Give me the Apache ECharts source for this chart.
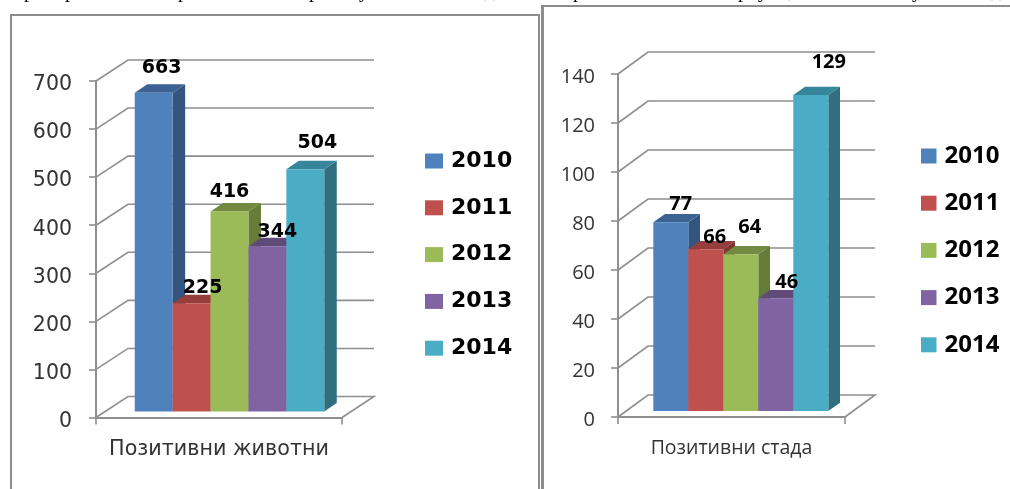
<!DOCTYPE html>
<html>
<head>
<meta charset="utf-8">
<style>
  html, body { margin: 0; padding: 0; background: #fff; overflow: hidden; }
  .frame { position: absolute; box-sizing: border-box; border: 2px solid #8c8c8c; }
  #frameA { left: 10px; top: 14px; width: 530px; height: 500px; }
  #frameB { left: 541px; top: 5px; width: 500px; height: 500px; border-left-width: 3px; }
  .chart { position: absolute; top: 0; height: 489px; filter: blur(0.45px); }
  #chartA { left: 0; width: 541px; }
  #chartB { left: 541px; width: 469px; }
</style>
</head>
<body>
<div id="frameA" class="frame"></div>
<div id="frameB" class="frame"></div>
<div id="chartA" class="chart"></div>
<div id="chartB" class="chart"></div>
<script src="https://cdn.jsdelivr.net/npm/echarts@6/dist/echarts.min.js"></script>
<script>
// data
var years = ['2010', '2011', '2012', '2013', '2014'];
var animals = [663, 225, 416, 344, 504];
var herds = [77, 66, 64, 46, 129];
var animalsLabel = 'Позитивни животни';
var herdsLabel = 'Позитивни стада';

// bar faces: front, side, top
var frontColors = ['#4f81bd', '#c0504d', '#9bbb59', '#8064a2', '#4bacc6'];
var sideColors = ['#34557f', '#7f3533', '#667d39', '#55426c', '#316f80'];
var topColors = ['#3b6292', '#953e3b', '#728b40', '#5f4a78', '#37859a'];

function draw(id, cfg) {
    var chart = echarts.init(document.getElementById(id));
    var series = [];

    // back wall lines and floor
    var ticks = [];
    for (var t = 0; t <= cfg.max; t += cfg.interval) ticks.push([0, t]);
    series.push({
        type: 'custom',
        silent: true,
        data: ticks,
        encode: { x: 0, y: 1 },
        renderItem: function (params, api) {
            var p = api.coord([0, api.value(1)]);
            var sys = params.coordSys;
            var x0 = sys.x, x1 = sys.x + sys.width;
            var points = [[x0, p[1]], [x0 + cfg.wallX, p[1] - cfg.wallY], [x1 + cfg.wallX, p[1] - cfg.wallY]];
            if (api.value(1) === 0) points.push([x1, p[1]]);
            return {
                type: 'polyline',
                shape: { points: points },
                style: { stroke: '#8f8f8f', lineWidth: 1.6, fill: null }
            };
        }
    });

    // one 3d bar per year, later years sit over the earlier ones
    cfg.values.forEach(function (v, i) {
        series.push({
            name: years[i],
            type: 'custom',
            silent: true,
            itemStyle: { color: frontColors[i] },
            data: [[0, v]],
            encode: { x: 0, y: 1 },
            renderItem: function (params, api) {
                var base = api.coord([0, 0]);
                var top = api.coord([0, api.value(1)]);
                var left = base[0] + cfg.shift + (i - years.length / 2) * cfg.barWidth;
                var right = left + cfg.barWidth;
                var y0 = base[1] - cfg.lift, y1 = top[1] - cfg.lift;
                var dx = cfg.depthX, dy = cfg.depthY;
                return {
                    type: 'group',
                    children: [
                        { type: 'polygon', shape: { points: [[right, y0], [right + dx, y0 - dy], [right + dx, y1 - dy], [right, y1]] }, style: { fill: sideColors[i] } },
                        { type: 'polygon', shape: { points: [[left, y1], [left + dx, y1 - dy], [right + dx, y1 - dy], [right, y1]] }, style: { fill: topColors[i] } },
                        { type: 'rect', shape: { x: left, y: y1, width: right - left, height: y0 - y1 }, style: { fill: frontColors[i] } },
                        {
                            type: 'text',
                            z2: 100,
                            x: (left + right) / 2 + cfg.labelNudge[i][0],
                            y: y1 + cfg.labelNudge[i][1],
                            style: {
                                text: String(api.value(1)),
                                font: cfg.valueFont,
                                fill: '#000',
                                textAlign: 'center',
                                textVerticalAlign: 'middle'
                            }
                        }
                    ]
                };
            }
        });
    });

    chart.setOption({
        animation: false,
        grid: { left: cfg.left, width: cfg.width, top: cfg.top, height: cfg.height },
        legend: {
            orient: 'vertical',
            left: cfg.legendLeft,
            top: cfg.legendTop,
            padding: 0,
            data: years,
            selectedMode: false,
            icon: 'rect',
            itemWidth: cfg.swatchW,
            itemHeight: 15,
            itemGap: cfg.legendGap,
            textStyle: {
                fontFamily: cfg.family,
                fontSize: cfg.legendSize,
                fontWeight: 'bold',
                color: '#000',
                padding: [0, 0, 0, 3]
            }
        },
        xAxis: {
            type: 'category',
            data: [cfg.category],
            axisLine: { lineStyle: { color: '#8f8f8f', width: 2 } },
            axisTick: { show: true, length: 7, lineStyle: { color: '#8f8f8f', width: 1.6 } },
            axisLabel: { margin: cfg.catMargin, color: '#333', fontFamily: cfg.family, fontSize: cfg.catSize }
        },
        yAxis: {
            type: 'value',
            min: 0,
            max: cfg.max,
            interval: cfg.interval,
            axisLine: { show: true, lineStyle: { color: '#8f8f8f', width: 2 } },
            axisTick: { show: true, length: 7, lineStyle: { color: '#8f8f8f', width: 1.6 } },
            splitLine: { show: false },
            // top + small lineHeight pushes the digits a bit under their tick
            axisLabel: { margin: cfg.tickMargin, verticalAlign: 'top', lineHeight: cfg.tickDrop, color: '#333', fontFamily: cfg.family, fontSize: cfg.tickSize }
        },
        // bits of the text line above the charts, cut off by the picture edge
        graphic: cfg.fragments.map(function (f) {
            return {
                type: 'text',
                x: f[1],
                y: 2,
                style: { text: f[0], font: '20px "Liberation Serif"', fill: '#000', textVerticalAlign: 'bottom' }
            };
        }),
        series: series
    });
}

draw('chartA', {
    values: animals, category: animalsLabel, max: 700, interval: 100,
    left: 96, width: 246, top: 81, height: 336.5,
    wallX: 32, wallY: 21, barWidth: 37.9, shift: 10.5, lift: 6, depthX: 12.5, depthY: 8.5,
    labelNudge: [[8, -25], [11, -15], [0, -19], [10, -14], [12, -26]],
    family: '"DejaVu Sans"', valueFont: 'bold 19px "DejaVu Sans"',
    tickSize: 20.5, tickMargin: 24, tickDrop: 8, catSize: 20.7, catMargin: 22,
    legendLeft: 425, legendTop: 150, legendGap: 24.8, legendSize: 22, swatchW: 18,
    fragments: [['р', 24], ['р', 65], ['р', 178], ['р', 309], ['у', 359], [',', 484], [',', 493]]
});

draw('chartB', {
    values: herds, category: herdsLabel, max: 140, interval: 20,
    left: 77, width: 227, top: 74, height: 343,
    wallX: 30, wallY: 22, barWidth: 35, shift: 9.3, lift: 6, depthX: 11.7, depthY: 8.3,
    labelNudge: [[10, -18], [9, -12], [9, -27], [11, -16], [18, -33]],
    family: '"Open Sans"', valueFont: 'bold 20px "Open Sans"',
    tickSize: 20, tickMargin: 23, tickDrop: 7, catSize: 19.5, catMargin: 21,
    legendLeft: 380, legendTop: 144, legendGap: 23.2, legendSize: 24, swatchW: 15.5,
    fragments: [['р', 32], ['р', 197], ['у', 217], [',', 247], ['у', 371], [',', 450], [',', 458]]
});
</script>
</body>
</html>
